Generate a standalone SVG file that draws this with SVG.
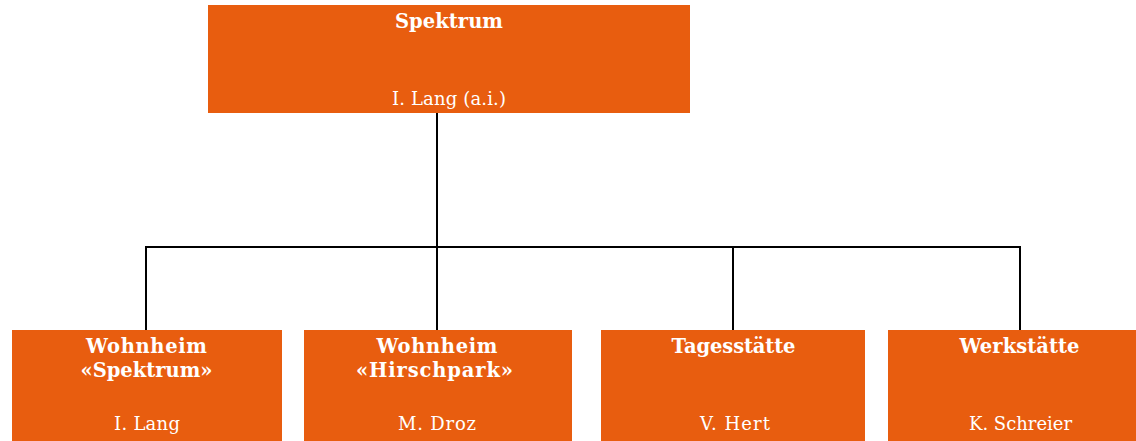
<svg xmlns="http://www.w3.org/2000/svg" width="1136" height="441" viewBox="0 0 1136 441">
<style>
.box{fill:#E85D0F}
.t{font-family:"DejaVu Serif","Liberation Serif",serif;font-size:18px;fill:#FFFFFF;text-anchor:middle}
.b{font-weight:bold;font-size:19.5px}
.c{fill:none;stroke:#000;stroke-width:2}
</style>
<rect width="1136" height="441" fill="#fff"/>
<g id="connectors">
<path class="c" d="M437,113 V247"/>
<path class="c" d="M146,330 V247 H1020 V330"/>
<path class="c" d="M437,247 V330"/>
<path class="c" d="M733,247 V330"/>
</g>
<g id="spektrum">
<rect class="box" x="208" y="5" width="482" height="108"/>
<text class="t b" x="449" y="28" textLength="108" lengthAdjust="spacing">Spektrum</text>
<text class="t" x="449" y="105" textLength="114" lengthAdjust="spacing">I. Lang (a.i.)</text>
</g>
<g id="wohnheim-spektrum">
<rect class="box" x="12" y="330" width="270" height="111"/>
<text class="t b" x="146.5" y="353" textLength="121" lengthAdjust="spacing">Wohnheim</text>
<text class="t b" x="146.5" y="377" textLength="132" lengthAdjust="spacing">«Spektrum»</text>
<text class="t" x="147" y="430" textLength="66" lengthAdjust="spacing">I. Lang</text>
</g>
<g id="wohnheim-hirschpark">
<rect class="box" x="304" y="330" width="268" height="111"/>
<text class="t b" x="437" y="353" textLength="121" lengthAdjust="spacing">Wohnheim</text>
<text class="t b" x="434.5" y="377" textLength="157" lengthAdjust="spacing">«Hirschpark»</text>
<text class="t" x="437" y="430" textLength="78" lengthAdjust="spacing">M. Droz</text>
</g>
<g id="tagesstaette">
<rect class="box" x="601" y="330" width="264" height="111"/>
<text class="t b" x="733.5" y="353" textLength="124" lengthAdjust="spacing">Tagesstätte</text>
<text class="t" x="735" y="430" textLength="70" lengthAdjust="spacing">V. Hert</text>
</g>
<g id="werkstaette">
<rect class="box" x="888" y="330" width="248" height="111"/>
<text class="t b" x="1019.5" y="353" textLength="120" lengthAdjust="spacing">Werkstätte</text>
<text class="t" x="1020.5" y="430" textLength="103" lengthAdjust="spacing">K. Schreier</text>
</g>
</svg>
